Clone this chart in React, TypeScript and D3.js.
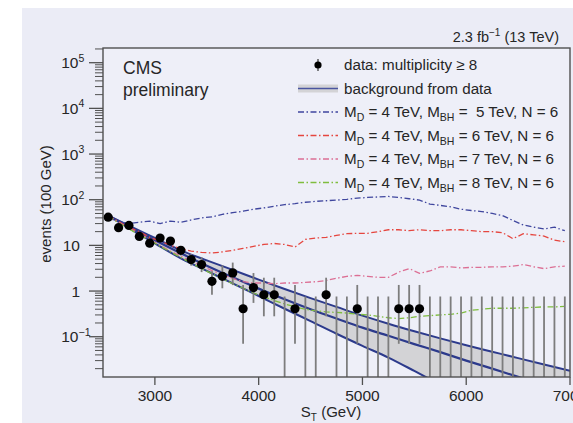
import React from "react";
import * as d3 from "d3";

// ---- data --------------------------------------------------------------
const xTicks = [3000, 4000, 5000, 6000, 7000];
const yMajor = [0.1, 1, 10, 100, 1000, 10000, 100000];
const yTickBase = ["10", "1", "10", "10", "10", "10", "10"];
const yTickExp = ["−1", "", "", "2", "3", "4", "5"];

// observed events per bin (S_T bin centre in GeV)
const dataS = [2550, 2650, 2750, 2850, 2950, 3050, 3150, 3250, 3350, 3450, 3550, 3650, 3750, 3850, 3950, 4050, 4150, 4350, 4650, 4950, 5350, 5450, 5550];
const dataV = [41.5, 24.4, 27.4, 15.7, 11.2, 14.5, 12.4, 7.8, 4.9, 3.8, 1.63, 2.1, 2.5, 0.41, 1.19, 0.83, 0.83, 0.41, 0.83, 0.41, 0.41, 0.41, 0.41];
const dataLo = [38, 21.5, 24.3, 13.2, 9.1, 12.1, 10.2, 6.0, 3.6, 2.6, 0.83, 1.15, 1.35, 0.07, 0.55, 0.28, 0.28, 0.07, 0.28, 0.07, 0.07, 0.07, 0.07];
const dataHi = [45, 27.5, 30.6, 18.2, 13.3, 16.9, 14.6, 9.6, 6.4, 5.5, 2.7, 3.65, 4.2, 1.36, 2.48, 1.96, 1.96, 1.36, 1.96, 1.36, 1.36, 1.36, 1.36];

// bins with no events: only an upper error
const emptyS = [4250, 4450, 4550, 4750, 4850, 5050, 5150, 5250, 5650, 5750, 5850, 5950, 6050, 6150, 6250, 6350, 6450, 6550, 6650, 6750, 6850, 6950];
const emptyHi = [0.76, 0.76, 0.76, 0.76, 0.76, 0.76, 0.76, 0.76, 0.76, 0.76, 0.76, 0.76, 0.76, 0.76, 0.76, 0.76, 0.76, 0.76, 0.76, 0.76, 0.76, 0.76];

// background fit: central value and band edges
const bkgS = [2550, 2750, 3000, 3250, 3500, 3750, 4000, 4250, 4500, 4750, 5000, 5250, 5500, 5750, 6000, 6250, 6500, 6750, 7000];
const bkgUp = [45, 27, 14.5, 7.8, 4.7, 2.9, 1.78, 1.11, 0.7, 0.45, 0.29, 0.193, 0.132, 0.092, 0.065, 0.047, 0.034, 0.0247, 0.018];
const bkgMid = [45, 25.5, 12.9, 6.7, 3.6, 2.0, 1.13, 0.66, 0.4, 0.25, 0.158, 0.105, 0.069, 0.046, 0.03, 0.02, 0.0132, 0.0089, 0.006];
const bkgLow = [45, 24, 11.1, 5.2, 2.76, 1.47, 0.78, 0.41, 0.22, 0.116, 0.063, 0.035, 0.0178, 0.0089, 0.0045, 0.0022, 0.0011, 0.0006, 0.0003];

// signal + background, M_D = 4 TeV, N = 6
const sigS = [2550, 2650, 2750, 2850, 2950, 3050, 3150, 3250, 3350, 3450, 3550, 3650, 3750, 3850, 3950, 4050, 4150, 4250, 4350, 4450, 4550, 4650, 4750, 4850, 4950, 5050, 5150, 5250, 5350, 5450, 5550, 5650, 5750, 5850, 5950, 6050, 6150, 6250, 6350, 6450, 6550, 6650, 6750, 6850, 6950];
const sigMBH5 = [40, 33, 30, 32, 34, 30, 34, 32, 36, 40, 42, 48, 52, 56, 62, 66, 72, 78, 82, 88, 92, 95, 98, 102, 108, 112, 115, 118, 112, 105, 98, 80, 75, 70, 62, 58, 55, 50, 45, 35, 28, 25, 23, 25, 21];
const sigMBH6 = [45, 33, 25, 20, 15, 12.5, 10, 8.5, 7.5, 7, 6.8, 7.2, 7.8, 8.6, 9.5, 10.5, 11, 10.5, 9.2, 13.5, 14.5, 15, 16.5, 18, 18.4, 18.4, 20, 22, 22, 21, 22, 21, 21, 22, 22, 21, 20, 20, 19, 14, 18, 17, 16, 13, 12];
const sigMBH7 = [44, 32, 24, 18, 13.5, 10, 7.5, 5.8, 4.5, 3.6, 2.8, 2.3, 1.9, 1.6, 1.5, 1.5, 1.45, 1.5, 1.5, 1.55, 1.6, 1.7, 1.9, 2.1, 2.2, 2.1, 2.0, 2.0, 2.6, 3.1, 2.45, 2.75, 3.4, 3.4, 3.2, 3.3, 3.3, 3.4, 3.4, 3.5, 3.8, 3.4, 3.1, 3.4, 3.5];
const sigMBH8 = [44, 31, 23, 17, 13, 9.6, 7.2, 5.4, 4.1, 3.1, 2.4, 1.85, 1.45, 1.15, 0.9, 0.75, 0.62, 0.52, 0.45, 0.4, 0.37, 0.35, 0.34, 0.33, 0.31, 0.3, 0.28, 0.26, 0.25, 0.26, 0.28, 0.29, 0.3, 0.31, 0.33, 0.38, 0.4, 0.42, 0.42, 0.42, 0.43, 0.44, 0.45, 0.45, 0.46];

const signalColors = ["#3f469e", "#e5463f", "#dc6f94", "#7fbd3e"];
const signalMBH = ["\u00a05", "6", "7", "8"];

// ---- layout ------------------------------------------------------------
const W = 573;
const H = 423;
const left = 103;
const right = 570;
const top = 48;
const bottom = 377;
const FONT = "'Liberation Sans', Arial, sans-serif";
const INK = "#262626";
const dash = "6 2.5 1.5 2.5";

export default function App() {
  const x = d3.scaleLinear().domain([2500, 7000]).range([left, right]);
  const y = d3.scaleLog().domain([Math.pow(10, -1.882), Math.pow(10, 5.322)]).range([bottom, top]);

  const minor: number[] = [];
  for (let k = -2; k <= 5; k++) {
    for (let m = 2; m <= 9; m++) {
      const v = m * Math.pow(10, k);
      if (v >= y.domain()[0] && v <= y.domain()[1]) minor.push(v);
    }
  }

  const lineOf = (xs: number[], ys: number[], curve = d3.curveMonotoneX) =>
    d3
      .line<number>()
      .x((_, i) => x(xs[i]))
      .y((v) => y(v))
      .curve(curve)(ys) || "";

  const band =
    d3
      .area<number>()
      .x((_, i) => x(bkgS[i]))
      .y0((_, i) => y(bkgLow[i]))
      .y1((_, i) => y(bkgUp[i]))
      .curve(d3.curveMonotoneX)(bkgS) || "";

  const signals = [sigMBH5, sigMBH6, sigMBH7, sigMBH8];

  const legendRows = [65, 88.5, 112, 135.5, 159, 182.5];
  const lx0 = 298;
  const lx1 = 338;
  const ltx = 344;
  const LFS = 15.2;

  return (
    <svg
      width={W}
      height={H}
      style={{ position: "absolute", left: 0, top: 0, background: "#ffffff" }}
      fontFamily={FONT}
    >
      <defs>
        <clipPath id="plotArea">
          <rect x={left} y={top} width={right - left} height={bottom - top} />
        </clipPath>
      </defs>
      <rect x={22} y={8} width={W - 22} height={H - 8} fill="#ebecf6" />
      <rect x={left} y={top} width={right - left} height={bottom - top} fill="#eeeff8" />

      <g clipPath="url(#plotArea)">
        {/* background band and fit lines */}
        <path d={band} fill="#d3d3d6" />
        <path d={lineOf(bkgS, bkgUp)} fill="none" stroke="#2c3a8c" strokeWidth={2} />
        <path d={lineOf(bkgS, bkgLow)} fill="none" stroke="#2c3a8c" strokeWidth={2} />
        <path d={lineOf(bkgS, bkgMid)} fill="none" stroke="#2c3a8c" strokeWidth={2.2} />

        {/* signal hypotheses */}
        {signals.map((s, i) => (
          <path
            key={i}
            d={lineOf(sigS, s, d3.curveLinear)}
            fill="none"
            stroke={signalColors[i]}
            strokeWidth={1.3}
            strokeDasharray={dash}
          />
        ))}

        {/* error bars */}
        {emptyS.map((s, i) => (
          <line key={"e" + i} x1={x(s)} x2={x(s)} y1={y(emptyHi[i])} y2={bottom} stroke="#7d7d7d" strokeWidth={1.8} />
        ))}
        {dataS.map((s, i) => (
          <line key={"b" + i} x1={x(s)} x2={x(s)} y1={y(dataHi[i])} y2={y(dataLo[i])} stroke="#7d7d7d" strokeWidth={1.8} />
        ))}
        {dataS.map((s, i) => (
          <circle key={"d" + i} cx={x(s)} cy={y(dataV[i])} r={4.6} fill="#000" />
        ))}
      </g>

      {/* frame */}
      <rect x={left} y={top} width={right - left} height={bottom - top} fill="none" stroke="#505050" strokeWidth={1.4} />

      {/* y axis ticks */}
      {yMajor.map((v, i) => (
        <g key={"ym" + i}>
          <line x1={left - 14} x2={left} y1={y(v)} y2={y(v)} stroke="#505050" strokeWidth={1.3} />
          <text x={yTickExp[i] ? 78.5 : 80} y={y(v) + 5.5} textAnchor="end" fontSize={15.5} fill={INK}>
            {yTickBase[i]}
          </text>
          {yTickExp[i] && (
            <text x={78.5} y={y(v) - 1} fontSize={10.5} fill={INK}>
              {yTickExp[i]}
            </text>
          )}
        </g>
      ))}
      {minor.map((v, i) => (
        <line key={"yn" + i} x1={left - 8} x2={left} y1={y(v)} y2={y(v)} stroke="#505050" strokeWidth={1} />
      ))}

      {/* x axis ticks */}
      {xTicks.map((t) => (
        <g key={"xt" + t}>
          <line x1={x(t)} x2={x(t)} y1={bottom} y2={bottom + 8} stroke="#505050" strokeWidth={1.3} />
          <text x={x(t)} y={bottom + 24} textAnchor="middle" fontSize={15.5} fill={INK}>
            {t}
          </text>
        </g>
      ))}

      {/* axis titles */}
      <text x={331} y={417} textAnchor="middle" fontSize={15} fill={INK}>
        S<tspan fontSize={10} dy={3.5}>T</tspan>
        <tspan dy={-3.5}> (GeV)</tspan>
      </text>
      <text transform="translate(51,204) rotate(-90)" textAnchor="middle" fontSize={15} fill={INK}>
        events (100 GeV)
      </text>

      {/* labels */}
      <text x={123} y={74} fontSize={17.5} fill={INK}>CMS</text>
      <text x={123} y={96} fontSize={17.5} fill={INK}>preliminary</text>
      <text x={559} y={42} textAnchor="end" fontSize={14.5} fill={INK}>
        2.3 fb<tspan fontSize={10} dy={-6}>−1</tspan>
        <tspan dy={6}> (13 TeV)</tspan>
      </text>

      {/* legend */}
      <line x1={318} x2={318} y1={legendRows[0] - 6} y2={legendRows[0] + 6} stroke="#333" strokeWidth={1.2} />
      <circle cx={318} cy={legendRows[0]} r={3.6} fill="#000" />
      <text x={ltx} y={legendRows[0] + 5} fontSize={LFS} fill={INK}>data: multiplicity ≥ 8</text>

      <rect x={lx0} y={legendRows[1] - 4} width={lx1 - lx0} height={8} fill="#d3d3d6" />
      <line x1={lx0} x2={lx1} y1={legendRows[1]} y2={legendRows[1]} stroke="#4a55a0" strokeWidth={1.4} />
      <text x={ltx} y={legendRows[1] + 5} fontSize={LFS} fill={INK}>background from data</text>

      {signalMBH.map((m, i) => {
        const ry = legendRows[2 + i];
        return (
          <g key={"lg" + i}>
            <line x1={lx0} x2={lx1} y1={ry} y2={ry} stroke={signalColors[i]} strokeWidth={1.3} strokeDasharray={dash} />
            <text x={ltx} y={ry + 5} fontSize={LFS} fill={INK}>
              M<tspan fontSize={10.5} dy={4}>D</tspan>
              <tspan dy={-4}> = 4 TeV, M</tspan>
              <tspan fontSize={10.5} dy={4}>BH</tspan>
              <tspan dy={-4}>{" = " + m + " TeV, N = 6"}</tspan>
            </text>
          </g>
        );
      })}
    </svg>
  );
}
